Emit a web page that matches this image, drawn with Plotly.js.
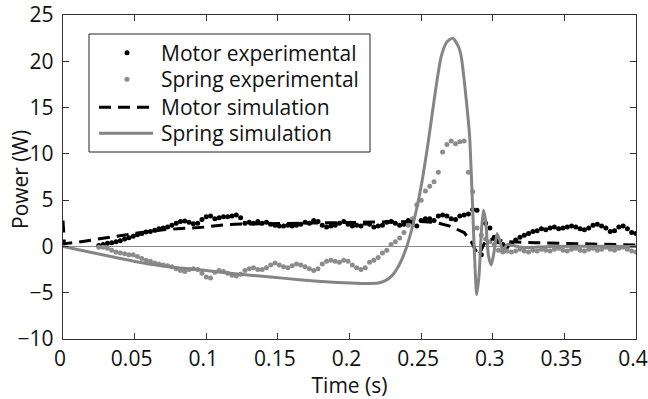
<!DOCTYPE html>
<html>
<head>
<meta charset="utf-8">
<script src="https://cdn.plot.ly/plotly-3.0.1.min.js"></script>
<style>html,body{margin:0;padding:0;background:#fff}#chart{width:648px;height:399px}</style>
</head>
<body>
<div id="chart"></div>
<script>
// Experimental sample times (s)
const expTime = [0.025,0.028,0.031,0.034,0.037,0.040,0.043,0.046,0.049,0.052,0.055,0.058,0.061,0.064,0.067,0.070,0.073,0.076,0.079,0.082,0.085,0.088,0.091,0.094,0.097,0.100,0.103,0.106,0.109,0.112,0.115,0.118,0.121,0.124,0.127,0.130,0.133,0.136,0.139,0.142,0.145,0.148,0.151,0.154,0.157,0.160,0.163,0.166,0.169,0.172,0.175,0.178,0.181,0.184,0.187,0.190,0.193,0.196,0.199,0.202,0.205,0.208,0.211,0.214,0.217,0.220,0.223,0.226,0.229,0.232,0.235,0.238,0.241,0.244,0.247,0.250,0.253,0.256,0.259,0.262,0.265,0.268,0.271,0.274,0.277,0.280,0.283,0.286,0.289,0.292,0.295,0.298,0.301,0.304,0.307,0.310,0.313,0.316,0.319,0.322,0.325,0.328,0.331,0.334,0.337,0.340,0.343,0.346,0.349,0.352,0.355,0.358,0.361,0.364,0.367,0.370,0.373,0.376,0.379,0.382,0.385,0.388,0.391,0.394,0.397,0.400];

const motorExp = [0.1,0.2,0.35,0.4,0.5,0.6,0.8,0.95,1.1,1.25,1.4,1.55,1.6,1.75,1.9,2.0,2.1,2.3,2.5,2.7,2.75,2.6,2.45,2.5,2.9,3.2,3.3,3.0,3.1,3.2,3.2,3.3,3.4,3.1,2.5,2.6,2.5,2.7,2.5,2.6,2.4,2.3,2.2,2.2,2.3,2.2,2.3,2.4,2.6,2.5,2.8,2.7,2.3,2.1,2.2,2.3,2.5,2.7,2.4,2.2,2.3,2.2,2.5,2.4,2.1,2.2,2.3,2.6,2.7,2.5,2.3,2.4,2.8,2.6,2.2,2.8,3.0,3.0,2.8,3.3,3.4,3.3,3.0,2.9,3.3,3.4,3.5,4.0,3.9,-0.9,2.5,2.0,1.0,0.5,0.2,0.0,0.3,0.7,1.0,1.2,1.4,1.6,1.7,1.9,1.8,2.0,2.1,1.9,2.0,2.1,2.2,2.1,1.9,1.8,2.0,2.3,2.4,2.2,2.0,1.6,1.7,2.1,2.2,1.9,1.5,1.4];

const springExp = [-0.1,-0.1,-0.2,-0.4,-0.6,-0.7,-0.8,-0.9,-0.9,-1.1,-1.3,-1.5,-1.6,-1.8,-1.9,-2.0,-2.1,-2.2,-2.4,-2.6,-2.7,-2.5,-2.4,-2.5,-2.9,-3.3,-3.4,-2.8,-2.6,-2.7,-2.9,-3.1,-3.2,-3.0,-2.6,-2.4,-2.3,-2.5,-2.5,-2.3,-2.0,-1.8,-2.0,-2.2,-2.3,-2.1,-1.9,-2.0,-2.2,-2.4,-2.6,-2.4,-1.9,-1.6,-1.5,-1.6,-1.7,-1.5,-1.6,-2.0,-2.3,-2.5,-2.3,-1.7,-1.5,-1.2,-0.7,-0.4,0.2,0.5,0.9,1.5,2.3,3.0,4.5,5.0,6.0,6.5,7.0,8.0,10.2,11.0,11.4,11.1,11.3,11.4,8.0,5.9,2.0,1.2,0.8,0.5,0.2,-0.4,-0.6,-0.5,-0.6,-0.5,-0.3,-0.5,-0.6,-0.4,-0.5,-0.3,-0.4,-0.5,-0.3,-0.2,-0.4,-0.5,-0.3,-0.2,-0.4,-0.5,-0.3,-0.2,-0.4,-0.3,-0.1,-0.3,-0.4,-0.2,-0.1,-0.3,-0.5,-0.6];

// Motor simulation
const motorSimTime = [0,0.001,0.01,0.02,0.03,0.04,0.05,0.06,0.07,0.08,0.09,0.10,0.11,0.12,0.14,0.16,0.18,0.20,0.22,0.24,0.25,0.26,0.27,0.28,0.285,0.29,0.295,0.30,0.31,0.33,0.36,0.40];
const motorSim = [2.8,0.3,0.45,0.7,0.95,1.2,1.4,1.6,1.8,1.9,2.0,2.1,2.3,2.4,2.45,2.5,2.5,2.55,2.6,2.65,2.7,2.6,2.2,1.5,0.5,-1.0,0.6,0.8,0.5,0.4,0.3,0.15];

// Spring simulation
const springSimTime = [0,0.02,0.04,0.06,0.08,0.10,0.12,0.145,0.165,0.186,0.20,0.21,0.22,0.225,0.23,0.235,0.24,0.245,0.25,0.255,0.26,0.264,0.268,0.272,0.276,0.278,0.2806,0.283,0.284,0.286,0.287,0.2888,0.2905,0.292,0.2935,0.295,0.297,0.299,0.301,0.303,0.305,0.307,0.31,0.32,0.34,0.40];
const springSim = [0,-0.65,-1.3,-1.9,-2.3,-2.6,-2.95,-3.3,-3.6,-3.85,-3.95,-4.0,-3.95,-3.7,-3.1,-1.9,0,2.8,6.5,11.3,16.8,20.5,22.1,22.5,21.6,20.5,17.2,13.5,11.5,4,0,-5.2,-3,1.5,3.9,2.8,-1,-2.0,-0.5,1.4,0.6,-0.5,0.2,-0.1,0,0];

const legendNames = ['Motor experimental','Spring experimental','Motor simulation','Spring simulation'];
const xTitle = 'Time (s)';
const yTitle = 'Power (W)';

const FONT = 'Open Sans, sans-serif';
const FS = 21;
const BLACK = '#000000';
const DOTGRAY = '#8c8c8c';
const LINEGRAY = '#858585';
const DASH = '12px,7px';

const traces = [
  {x: expTime, y: motorExp, mode: 'markers', name: legendNames[0],
   marker: {color: BLACK, size: 5}},
  {x: expTime, y: springExp, mode: 'markers', name: legendNames[1],
   marker: {color: DOTGRAY, size: 5}},
  {x: motorSimTime, y: motorSim, mode: 'lines', name: legendNames[2],
   line: {color: BLACK, width: 3, dash: DASH}},
  {x: springSimTime, y: springSim, mode: 'lines', name: legendNames[3],
   line: {color: LINEGRAY, width: 3, shape: 'spline', smoothing: 0.6}}
];

// Manual legend (plot area: x 63..636 px, y 15..339 px)
const L = 63, W = 573, T = 15, H = 324;
const fx = px => (px - L) / W;
const fy = py => (T + H - py) / H;
const rowY = [52.7, 79.3, 107.3, 133.3];
const shapes = [
  {type: 'rect', xref: 'paper', yref: 'paper', x0: fx(89), x1: fx(370), y0: fy(152), y1: fy(34),
   line: {color: '#222', width: 1}, fillcolor: '#ffffff', layer: 'above'},
  {type: 'circle', xref: 'paper', yref: 'paper', xsizemode: 'pixel', ysizemode: 'pixel',
   xanchor: fx(127), yanchor: fy(rowY[0]), x0: -2.5, x1: 2.5, y0: -2.5, y1: 2.5,
   fillcolor: BLACK, line: {width: 0}},
  {type: 'circle', xref: 'paper', yref: 'paper', xsizemode: 'pixel', ysizemode: 'pixel',
   xanchor: fx(127), yanchor: fy(rowY[1]), x0: -2.5, x1: 2.5, y0: -2.5, y1: 2.5,
   fillcolor: DOTGRAY, line: {width: 0}},
  {type: 'line', xref: 'paper', yref: 'paper', x0: fx(99), x1: fx(153), y0: fy(rowY[2]), y1: fy(rowY[2]),
   line: {color: BLACK, width: 3, dash: DASH}},
  {type: 'line', xref: 'paper', yref: 'paper', x0: fx(99), x1: fx(153), y0: fy(rowY[3]), y1: fy(rowY[3]),
   line: {color: LINEGRAY, width: 3}}
];
const annotations = legendNames.map((n, i) => ({
  xref: 'paper', yref: 'paper', x: fx(159), y: fy(rowY[i]), xanchor: 'left', yanchor: 'middle',
  text: n, showarrow: false, font: {family: FONT, size: FS, color: '#111'}
}));
// y-axis title placed as rotated text, like the reference
annotations.push({
  xref: 'paper', yref: 'paper', x: fx(20), y: fy(180), xanchor: 'center', yanchor: 'middle',
  text: yTitle, textangle: -90, showarrow: false, font: {family: FONT, size: FS, color: '#111'}
});

const layout = {
  width: 648, height: 399,
  margin: {l: L, r: 648 - L - W, t: T, b: 399 - T - H},
  paper_bgcolor: '#ffffff', plot_bgcolor: '#ffffff',
  font: {family: FONT, size: FS, color: '#111'},
  showlegend: false,
  shapes: shapes,
  annotations: annotations,
  xaxis: {range: [0, 0.4], dtick: 0.05, tick0: 0,
          showgrid: false, zeroline: false,
          showline: true, linecolor: '#333', linewidth: 1.3, mirror: 'ticks',
          ticks: 'inside', ticklen: 6, tickcolor: '#333',
          ticklabeloverflow: 'allow', ticklabelshift: -3,
          tickfont: {family: FONT, size: FS, color: '#111'},
          title: {text: xTitle, font: {family: FONT, size: FS, color: '#111'}, standoff: 0}},
  yaxis: {range: [-10, 25], dtick: 5, tick0: 0,
          showgrid: false, zeroline: true, zerolinecolor: '#8a8a8a', zerolinewidth: 1.2,
          showline: true, linecolor: '#333', linewidth: 1.3, mirror: 'ticks',
          ticks: 'inside', ticklen: 6, tickcolor: '#333', ticklabelstandoff: 4,
          tickfont: {family: FONT, size: FS, color: '#111'}}
};

Plotly.newPlot('chart', traces, layout, {staticPlot: true, displayModeBar: false});
</script>
</body>
</html>
